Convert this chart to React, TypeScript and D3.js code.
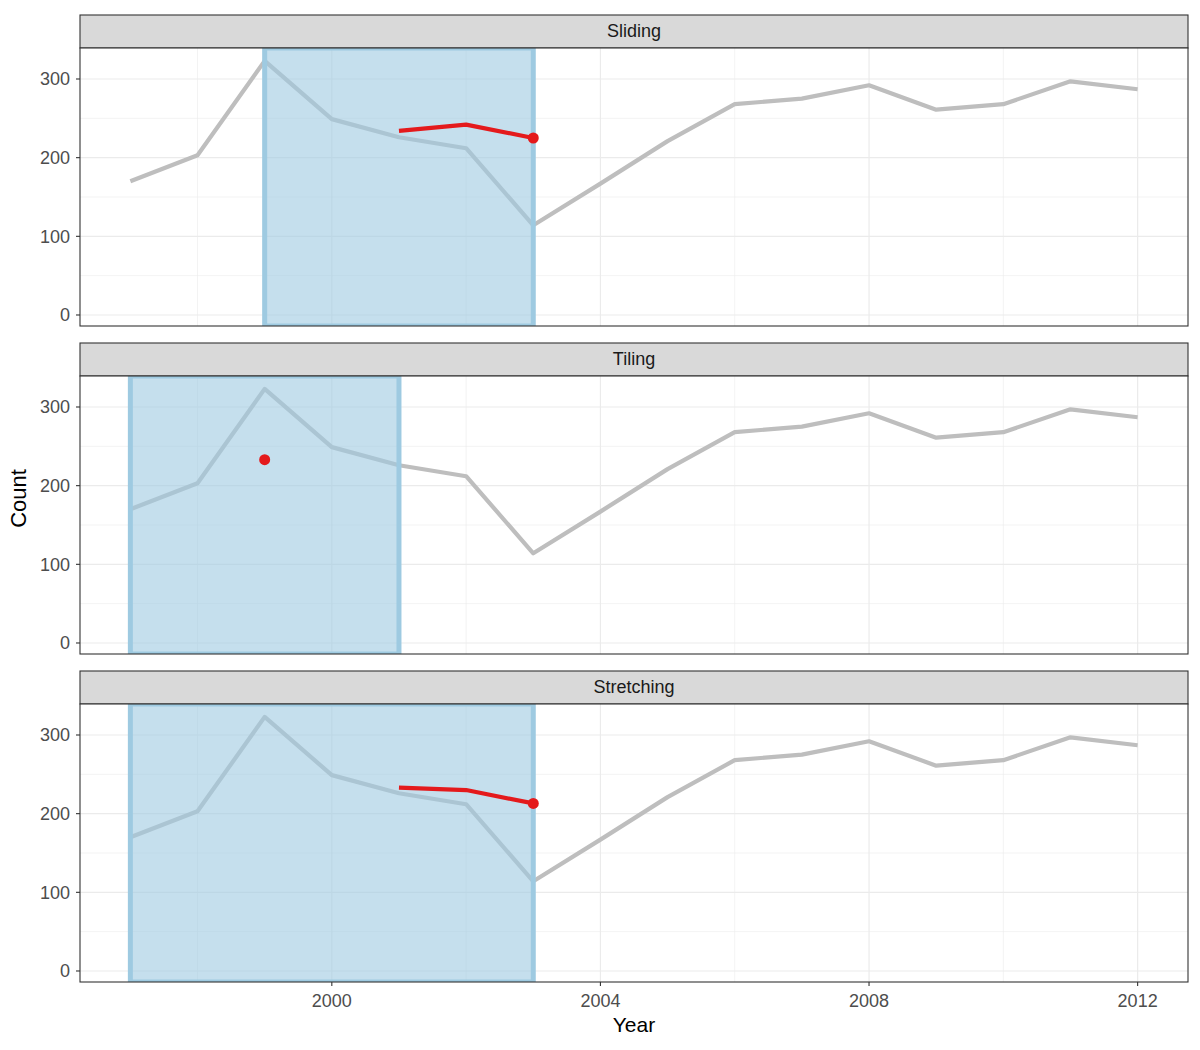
import React, { useRef, useEffect } from 'react';
import * as d3 from 'd3';

const years = [1997, 1998, 1999, 2000, 2001, 2002, 2003, 2004, 2005, 2006, 2007, 2008, 2009, 2010, 2011, 2012];
const counts = [170, 203, 323, 249, 226, 212, 114, 167, 221, 268, 275, 292, 261, 268, 297, 287];

const facetNames = ['Sliding', 'Tiling', 'Stretching'];
const windowStart = [1999, 1997, 1997];
const windowEnd = [2003, 2001, 2003];

// forecast values per facet
const forecastYears = [[2001, 2002, 2003], [1999], [2001, 2002, 2003]];
const forecastValues = [[234, 242, 225], [233], [233, 230, 213]];

const xTicks = [2000, 2004, 2008, 2012];
const yTicks = [0, 100, 200, 300];

const W = 1200;
const H = 1050;
const left = 80;
const right = 1188;
const panelTops = [48, 376, 704];
const panelH = 278;
const stripH = 33;

export default function App() {
  const svgRef = useRef<SVGSVGElement>(null);

  useEffect(() => {
    if (!svgRef.current) return;
    const svg = d3.select(svgRef.current);
    svg.selectAll('*').remove();
    const font = "'Liberation Sans', Arial, sans-serif";
    const defs = svg.append('defs');

    const x = d3.scaleLinear().domain([1996.25, 2012.75]).range([left, right]);

    facetNames.forEach((name, i) => {
      const top = panelTops[i];
      const y = d3.scaleLinear().domain([-14, 339.4]).range([top + panelH, top]);
      const g = svg.append('g');

      defs.append('clipPath').attr('id', `clip${i}`)
        .append('rect').attr('x', left).attr('y', top).attr('width', right - left).attr('height', panelH);

      // strip
      g.append('rect').attr('x', left).attr('y', top - stripH).attr('width', right - left).attr('height', stripH)
        .attr('fill', '#d9d9d9').attr('stroke', '#333333').attr('stroke-width', 1.1);
      g.append('text').attr('x', (left + right) / 2).attr('y', top - stripH + 22)
        .attr('text-anchor', 'middle').attr('font-family', font).attr('font-size', 18).attr('fill', '#1a1a1a').text(name);

      // panel bg
      g.append('rect').attr('x', left).attr('y', top).attr('width', right - left).attr('height', panelH).attr('fill', 'white');

      const p = g.append('g').attr('clip-path', `url(#clip${i})`);

      // grid
      const minorY = [50, 150, 250];
      const minorX = [1998, 2002, 2006, 2010];
      p.selectAll('.gym').data(minorY).enter().append('line')
        .attr('x1', left).attr('x2', right).attr('y1', d => y(d)).attr('y2', d => y(d))
        .attr('stroke', '#ebebeb').attr('stroke-width', 0.6);
      p.selectAll('.gxm').data(minorX).enter().append('line')
        .attr('y1', top).attr('y2', top + panelH).attr('x1', d => x(d)).attr('x2', d => x(d))
        .attr('stroke', '#ebebeb').attr('stroke-width', 0.6);
      p.selectAll('.gy').data(yTicks).enter().append('line')
        .attr('x1', left).attr('x2', right).attr('y1', d => y(d)).attr('y2', d => y(d))
        .attr('stroke', '#ebebeb').attr('stroke-width', 1.2);
      p.selectAll('.gx').data(xTicks).enter().append('line')
        .attr('y1', top).attr('y2', top + panelH).attr('x1', d => x(d)).attr('x2', d => x(d))
        .attr('stroke', '#ebebeb').attr('stroke-width', 1.2);

      // gray history line
      const line = d3.line<number>().x((_, j) => x(years[j])).y(d => y(d));
      p.append('path').attr('d', line(counts)).attr('fill', 'none')
        .attr('stroke', '#bebebe').attr('stroke-width', 4.2).attr('stroke-linejoin', 'round');

      // window rect
      p.append('rect')
        .attr('x', x(windowStart[i])).attr('y', top)
        .attr('width', x(windowEnd[i]) - x(windowStart[i])).attr('height', panelH)
        .attr('fill', '#9ecae1').attr('fill-opacity', 0.6)
        .attr('stroke', '#9ecae1').attr('stroke-width', 5);

      // forecast
      const fy = forecastYears[i];
      const fv = forecastValues[i];
      if (fv.length > 1) {
        const fline = d3.line<number>().x((_, j) => x(fy[j])).y(d => y(d));
        p.append('path').attr('d', fline(fv)).attr('fill', 'none')
          .attr('stroke', '#e41a1c').attr('stroke-width', 4.2).attr('stroke-linejoin', 'round');
      }
      p.append('circle').attr('cx', x(fy[fy.length - 1])).attr('cy', y(fv[fv.length - 1]))
        .attr('r', 5.5).attr('fill', '#e41a1c');

      // border
      g.append('rect').attr('x', left).attr('y', top).attr('width', right - left).attr('height', panelH)
        .attr('fill', 'none').attr('stroke', '#333333').attr('stroke-width', 1.1);

      // y axis
      yTicks.forEach(t => {
        g.append('line').attr('x1', left - 4).attr('x2', left).attr('y1', y(t)).attr('y2', y(t))
          .attr('stroke', '#333333').attr('stroke-width', 1.1);
        g.append('text').attr('x', left - 10).attr('y', y(t)).attr('dy', '0.36em').attr('text-anchor', 'end')
          .attr('font-family', font).attr('font-size', 18).attr('fill', '#4d4d4d').text(t);
      });

      if (i === facetNames.length - 1) {
        xTicks.forEach(t => {
          g.append('line').attr('x1', x(t)).attr('x2', x(t)).attr('y1', top + panelH).attr('y2', top + panelH + 4)
            .attr('stroke', '#333333').attr('stroke-width', 1.1);
          g.append('text').attr('x', x(t)).attr('y', top + panelH + 24.5).attr('text-anchor', 'middle')
            .attr('font-family', font).attr('font-size', 18).attr('fill', '#4d4d4d').text(t);
        });
      }
    });

    svg.append('text').attr('x', (left + right) / 2).attr('y', 1032).attr('text-anchor', 'middle')
      .attr('font-family', font).attr('font-size', 21).attr('fill', 'black').text('Year');
    svg.append('text').attr('transform', `translate(26,${(panelTops[0] - stripH + panelTops[2] + panelH) / 2}) rotate(-90)`)
      .attr('text-anchor', 'middle').attr('font-family', font).attr('font-size', 22).attr('fill', 'black').text('Count');
  }, []);

  return (
    <div style={{ position: 'absolute', left: 0, top: 0, background: 'white' }}>
      <svg ref={svgRef} width={W} height={H} style={{ display: 'block' }} />
    </div>
  );
}
